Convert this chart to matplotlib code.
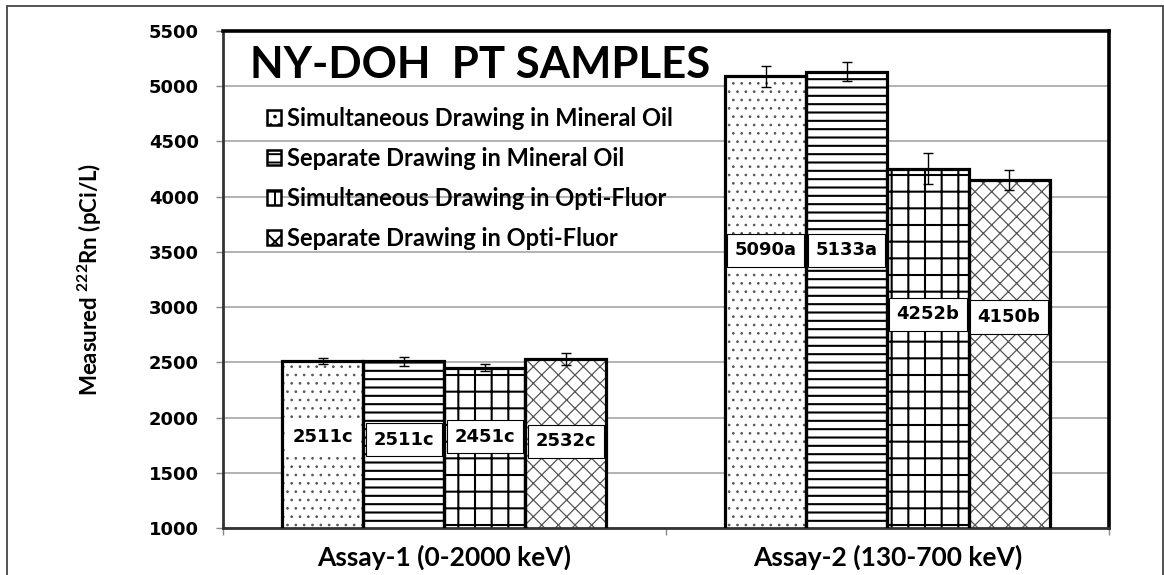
import matplotlib.pyplot as plt
import numpy as np
from matplotlib.patches import Patch, Rectangle

# Data
categories = ["Assay-1 (0-2000 keV)", "Assay-2 (130-700 keV)"]
series_names = [
    "Simultaneous Drawing in Mineral Oil",
    "Separate Drawing in Mineral Oil",
    "Simultaneous Drawing in Opti-Fluor",
    "Separate Drawing in Opti-Fluor",
]
values = [
    [2511, 5090],
    [2511, 5133],
    [2451, 4252],
    [2532, 4150],
]
errors = [
    [30, 95],
    [40, 90],
    [30, 140],
    [55, 90],
]
value_labels = [
    ["2511c", "5090a"],
    ["2511c", "5133a"],
    ["2451c", "4252b"],
    ["2532c", "4150b"],
]
# where the value boxes sit (y in data units)
label_heights = [
    [1825, 3515],
    [1800, 3515],
    [1825, 2935],
    [1785, 2910],
]

hatches = ["..", "--", "+", "xx"]
hatch_colors = ["#555555", "black", "black", "#555555"]
hatch_widths = [0.7, 1.5, 1.5, 0.9]

plt.rcParams["hatch.linewidth"] = 1.4
plt.rcParams["mathtext.fontset"] = "custom"
plt.rcParams["mathtext.bf"] = "Lato:bold"
plt.rcParams["mathtext.rm"] = "Lato:bold"
plt.rcParams["mathtext.default"] = "bf"

W, H = 1164, 575
fig = plt.figure(figsize=(W / 100, H / 100), dpi=100)
ax = fig.add_axes([222.7 / W, 1 - 528 / H, (1109 - 222.7) / W, (528 - 31) / H])

x = np.arange(len(categories))
width = 0.183
n = len(series_names)

for i in range(n):
    pos = x + (i - (n - 1) / 2) * width
    # hatch layer
    with plt.rc_context({"hatch.linewidth": hatch_widths[i]}):
        bars = ax.bar(
            pos,
            values[i],
            width,
            bottom=0,
            color="white",
            edgecolor=hatch_colors[i],
            hatch=hatches[i],
            linewidth=0,
            zorder=2,
        )
    for b in bars:
        if hasattr(b, "set_hatch_linewidth"):
            b.set_hatch_linewidth(hatch_widths[i])
    # outline layer
    ax.bar(
        pos,
        values[i],
        width,
        fill=False,
        edgecolor="black",
        linewidth=2.3,
        zorder=3,
    )
    ax.errorbar(
        pos,
        values[i],
        yerr=errors[i],
        fmt="none",
        ecolor="black",
        elinewidth=1,
        capsize=3.3,
        capthick=1,
        zorder=4,
    )
    for j in range(len(categories)):
        ax.text(
            pos[j],
            label_heights[i][j],
            value_labels[i][j],
            ha="center",
            va="center",
            fontsize=13,
            fontweight="bold",
            family="DejaVu Sans",
            zorder=5,
            bbox=dict(
                boxstyle="square,pad=0.42",
                facecolor="white",
                edgecolor="none" if (i == 0 and j == 0) else "black",
                linewidth=0.8,
            ),
        )

ax.set_xlim(-0.5, 1.5)
ax.set_ylim(1000, 5500)
ax.set_yticks(np.arange(1000, 5501, 500))
ax.set_xticks(x)
ax.set_xticklabels(categories)
ax.set_xticks([-0.5, 0.5, 1.5], minor=True)
ax.grid(axis="y", color="#a6a6a6", linewidth=1.2, zorder=0)
ax.set_axisbelow(True)

ax.tick_params(axis="x", which="major", length=0, pad=12)
ax.tick_params(axis="x", which="minor", length=5, width=1, color="#888888")
ax.tick_params(axis="y", length=5, width=1, color="#888888", pad=12)
for lab in ax.get_yticklabels():
    lab.set_fontsize(13)
    lab.set_fontweight("bold")
    lab.set_family("DejaVu Sans")
for lab in ax.get_xticklabels():
    lab.set_fontsize(19)
    lab.set_fontweight("bold")
    lab.set_family("Lato")

for side in ["top", "right"]:
    ax.spines[side].set_linewidth(2.6)
    ax.spines[side].set_color("black")
for side in ["left", "bottom"]:
    ax.spines[side].set_linewidth(2)
    ax.spines[side].set_color("#333333")

ax.set_ylabel(
    "Measured $^{222}$Rn (pCi/L)", fontsize=16, fontweight="bold", family="Lato"
)
ax.yaxis.set_label_coords((104 - 222.7) / 886.3, 0.5)

# chart title inside the plot area
ax.text(
    (250 - 222.7) / 886.3,
    (528 - 78) / 497,
    "NY-DOH  PT SAMPLES",
    transform=ax.transAxes,
    fontsize=31.5,
    fontweight="bold",
    family="Lato",
    ha="left",
    va="baseline",
    zorder=6,
)

legend_handles = [
    Patch(facecolor="white", edgecolor="black", hatch=h, linewidth=1.8, label=s)
    for h, s in zip(hatches, series_names)
]
leg = ax.legend(
    handles=legend_handles,
    loc="upper left",
    bbox_to_anchor=((267 - 222.7) / 886.3, (528 - 107) / 497),
    frameon=False,
    borderaxespad=0,
    borderpad=0,
    handlelength=0.6,
    handleheight=0.6,
    handletextpad=0.25,
    labelspacing=0.72,
    prop={"family": "Lato", "weight": "bold", "size": 17},
)
leg.set_zorder(6)

# outer chart border
fig.patches.append(
    Rectangle(
        (7 / W, -0.05),
        (1163 - 7) / W,
        1.05 - 6 / H,
        transform=fig.transFigure,
        fill=False,
        edgecolor="#444444",
        linewidth=1.3,
    )
)

fig.savefig("out.png", dpi=100)
